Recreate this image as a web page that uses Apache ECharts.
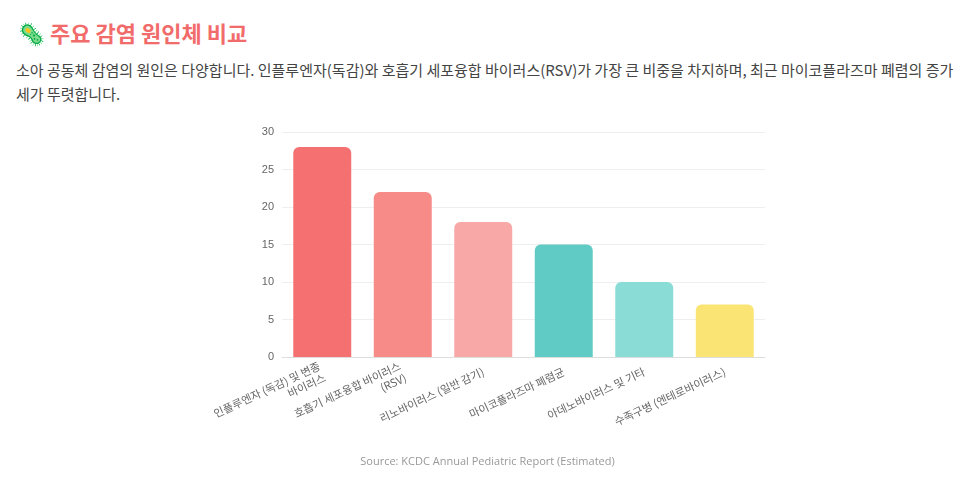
<!DOCTYPE html>
<html>
<head>
<meta charset="utf-8">
<script src="https://cdn.jsdelivr.net/npm/echarts@6/dist/echarts.min.js"></script>
<style>
body { margin: 0; background: #fff; font-family: "Noto Sans CJK KR", "Noto Sans", sans-serif; }
h2 { margin: 0; position: absolute; left: 18px; top: 16px; font-size: 22px; color: #F26B6B; font-weight: 700; }
p { margin: 0; position: absolute; left: 16px; top: 58px; width: 945px; font-size: 15px; line-height: 24px; color: #444; }
#chart { position: absolute; left: 0; top: 110px; width: 975px; height: 380px; }
</style>
</head>
<body>
<h2>🦠 주요 감염 원인체 비교</h2>
<p>소아 공동체 감염의 원인은 다양합니다. 인플루엔자(독감)와 호흡기 세포융합 바이러스(RSV)가 가장 큰 비중을 차지하며, 최근 마이코플라즈마 폐렴의 증가세가 뚜렷합니다.</p>
<div id="chart"></div>
<script>
// 원인체별 비중 (%)
var pathogens = [
    { name: '인플루엔자 (독감) 및 변종\n바이러스', value: 28, color: '#F57070' },
    { name: '호흡기 세포융합 바이러스\n(RSV)', value: 22, color: '#F78B88' },
    { name: '리노바이러스 (일반 감기)', value: 18, color: '#F9A8A8' },
    { name: '마이코플라즈마 폐렴균', value: 15, color: '#5FCBC4' },
    { name: '아데노바이러스 및 기타', value: 10, color: '#8ADDD7' },
    { name: '수족구병 (엔테로바이러스)', value: 7, color: '#FAE574' }
];
var chart = echarts.init(document.getElementById('chart'));
chart.setOption({
    animation: false,
    grid: { left: 282, right: 210, top: 22, bottom: 133 },
    title: {
        text: 'Source: KCDC Annual Pediatric Report (Estimated)',
        left: 'center', bottom: 18,
        textStyle: { fontSize: 11, fontWeight: 'normal', color: '#999', fontFamily: 'Open Sans' }
    },
    xAxis: {
        type: 'category',
        data: pathogens.map(function (p) { return p.name; }),
        axisTick: { show: false },
        axisLine: { lineStyle: { color: '#ddd' } },
        axisLabel: { rotate: 25, interval: 0, fontSize: 11, color: '#666', lineHeight: 13, margin: 14,
            fontFamily: 'Noto Sans CJK KR' }
    },
    yAxis: {
        type: 'value', min: 0, max: 30, interval: 5,
        axisLabel: { fontSize: 11, color: '#666' },
        splitLine: { lineStyle: { color: '#eee' } }
    },
    series: [{
        type: 'bar',
        barWidth: '72%',
        data: pathogens.map(function (p) {
            return { value: p.value, itemStyle: { color: p.color, borderRadius: [6, 6, 0, 0] } };
        })
    }]
});
</script>
</body>
</html>
